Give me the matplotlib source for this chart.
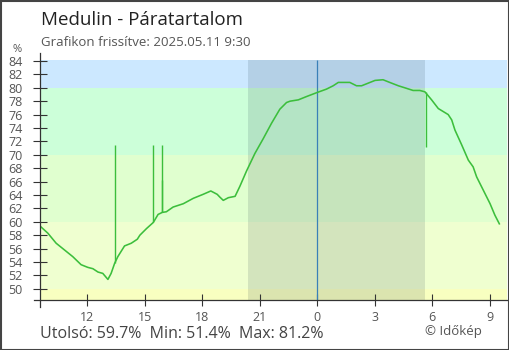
import matplotlib
matplotlib.use("Agg")
import matplotlib.pyplot as plt
import matplotlib.dates as mdates
from matplotlib.lines import Line2D
from matplotlib.patches import Rectangle
from matplotlib.ticker import FuncFormatter
import pandas as pd

plt.rcParams['font.family'] = ['Open Sans', 'DejaVu Sans']

# relative humidity, Medulin, 2025-05-10 .. 2025-05-11
times = ["05-10 09:34", "05-10 09:57", "05-10 10:23", "05-10 10:49", "05-10 11:15",
         "05-10 11:41", "05-10 12:02", "05-10 12:18", "05-10 12:34", "05-10 12:49",
         "05-10 13:05", "05-10 13:15", "05-10 13:26", "05-10 13:36", "05-10 13:57",
         "05-10 14:18", "05-10 14:37", "05-10 14:45", "05-10 15:06", "05-10 15:27",
         "05-10 15:42", "05-10 15:55", "05-10 16:08", "05-10 16:29", "05-10 17:01",
         "05-10 17:32", "05-10 18:03", "05-10 18:27", "05-10 18:47", "05-10 18:55",
         "05-10 19:06", "05-10 19:22", "05-10 19:43", "05-10 19:58", "05-10 20:19",
         "05-10 20:45", "05-10 21:11", "05-10 21:37", "05-10 22:03", "05-10 22:24",
         "05-10 22:35", "05-10 23:01", "05-10 23:27", "05-11 00:00", "05-11 00:29",
         "05-11 00:50", "05-11 01:06", "05-11 01:42", "05-11 02:03", "05-11 02:19",
         "05-11 02:40", "05-11 03:01", "05-11 03:26", "05-11 03:47", "05-11 04:14",
         "05-11 04:34", "05-11 05:00", "05-11 05:21", "05-11 05:37", "05-11 05:58",
         "05-11 06:19", "05-11 06:50", "05-11 07:01", "05-11 07:11", "05-11 07:32",
         "05-11 07:53", "05-11 08:08", "05-11 08:19", "05-11 08:40", "05-11 09:01",
         "05-11 09:16", "05-11 09:30"]
humidity = [59.3, 58.3, 56.8, 55.8, 54.8,
            53.6, 53.2, 53.0, 52.5, 52.3,
            51.4, 52.3, 53.8, 54.8, 56.4,
            56.8, 57.4, 58.0, 59.0, 59.9,
            61.1, 61.4, 61.5, 62.2, 62.7,
            63.5, 64.1, 64.6, 64.1, 63.7,
            63.2, 63.6, 63.8, 65.3, 67.6,
            70.2, 72.4, 74.7, 76.8, 77.8,
            78.0, 78.2, 78.7, 79.3, 79.8,
            80.3, 80.8, 80.8, 80.3, 80.3,
            80.7, 81.1, 81.2, 80.8, 80.3,
            80.0, 79.6, 79.6, 79.4, 78.2,
            76.9, 76.0, 75.2, 73.7, 71.5,
            69.2, 68.2, 66.7, 64.7, 62.7,
            61.0, 59.7]

# single-reading glitches
spike_times = ["05-10 13:26", "05-10 15:27", "05-10 15:55", "05-10 15:55", "05-11 05:40"]
spike_from = [53.8, 59.9, 61.4, 61.4, 79.4]
spike_to = [71.5, 71.5, 71.5, 66.2, 71.2]

night_start = "05-10 20:23"
night_end = "05-11 05:37"
axis_end = "05-11 09:54"

# humidity bands
band_edges = [48.0, 50, 60, 70, 80, 84.15]
band_colors = ['#f8ffc0', '#efffd0', '#e0ffcf', '#ccffd9', '#cce8ff']


def ts(s):
    return pd.to_datetime("2025-" + s)


t = [ts(s) for s in times]
W, H = 510, 350
fig = plt.figure(figsize=(W / 100, H / 100), dpi=100)
ax = fig.add_axes([40.5 / W, 50 / H, 466.5 / W, 247 / H])

for lo, hi, c in zip(band_edges[:-1], band_edges[1:], band_colors):
    ax.axhspan(lo, hi, color=c, lw=0, zorder=0)
ax.fill_between([ts(night_start), ts(night_end)], 40, 84.15,
                color='#1a3040', alpha=0.13, lw=0, zorder=1)
ax.vlines(ts("05-11 00:00"), 40, 84.15, color='#3a80b8', lw=0.9, zorder=2)

ax.plot(t, humidity, color='#3cbe3c', lw=1.15, zorder=3)
ax.vlines([ts(s) for s in spike_times], spike_from, spike_to,
          color='#3cbe3c', lw=1.0, zorder=3)

ax.set_xlim(t[0], ts(axis_end))
ax.set_ylim(48.33, 85.19)
ax.set_yticks(range(50, 85, 2))
ax.xaxis.set_major_locator(mdates.HourLocator(byhour=range(0, 24, 3)))
ax.xaxis.set_major_formatter(FuncFormatter(lambda x, p: str(mdates.num2date(x).hour)))

for s in ax.spines.values():
    s.set_visible(False)
ax.tick_params(axis='both', direction='inout', colors='#333333', labelcolor='#555555',
               labelsize=9, width=0.8)
ax.tick_params(axis='y', length=9.5, pad=8)
ax.tick_params(axis='x', length=9.2, pad=3.2)

# axis lines crossing at the lower left corner
fig.add_artist(Line2D([40.5 / W, 40.5 / W], [1 - 53 / H, 1 - 306.5 / H],
                      transform=fig.transFigure, color='#333333', lw=0.9))
fig.add_artist(Line2D([34 / W, 507 / W], [1 - 300 / H, 1 - 300 / H],
                      transform=fig.transFigure, color='#333333', lw=0.9))

fig.text(17 / W, 1 - 52.5 / H, '%', fontsize=8, color='#555555', ha='center', va='baseline')
fig.text(41 / W, 1 - 25 / H, 'Medulin - Páratartalom', fontsize=13.5,
         color='#222222', va='baseline')
fig.text(41 / W, 1 - 45.5 / H, 'Grafikon frissítve: 2025.05.11 9:30', fontsize=9.5,
         color='#555555', va='baseline')
fig.text(40 / W, 1 - 338 / H,
         'Utolsó: {:.1f}%  Min: {:.1f}%  Max: {:.1f}%'.format(humidity[-1], min(humidity), max(humidity)),
         fontsize=11.5, color='#444444', va='baseline')
fig.text(425 / W, 1 - 334.5 / H, '© Időkép', fontsize=9.5, color='#555555', va='baseline')

fig.add_artist(Rectangle((0.5 / W, 0.5 / H), 1 - 1.5 / W, 1 - 1.5 / H,
                         transform=fig.transFigure, fill=False,
                         edgecolor='#444444', lw=1.5))

fig.savefig('out.png', dpi=100)
